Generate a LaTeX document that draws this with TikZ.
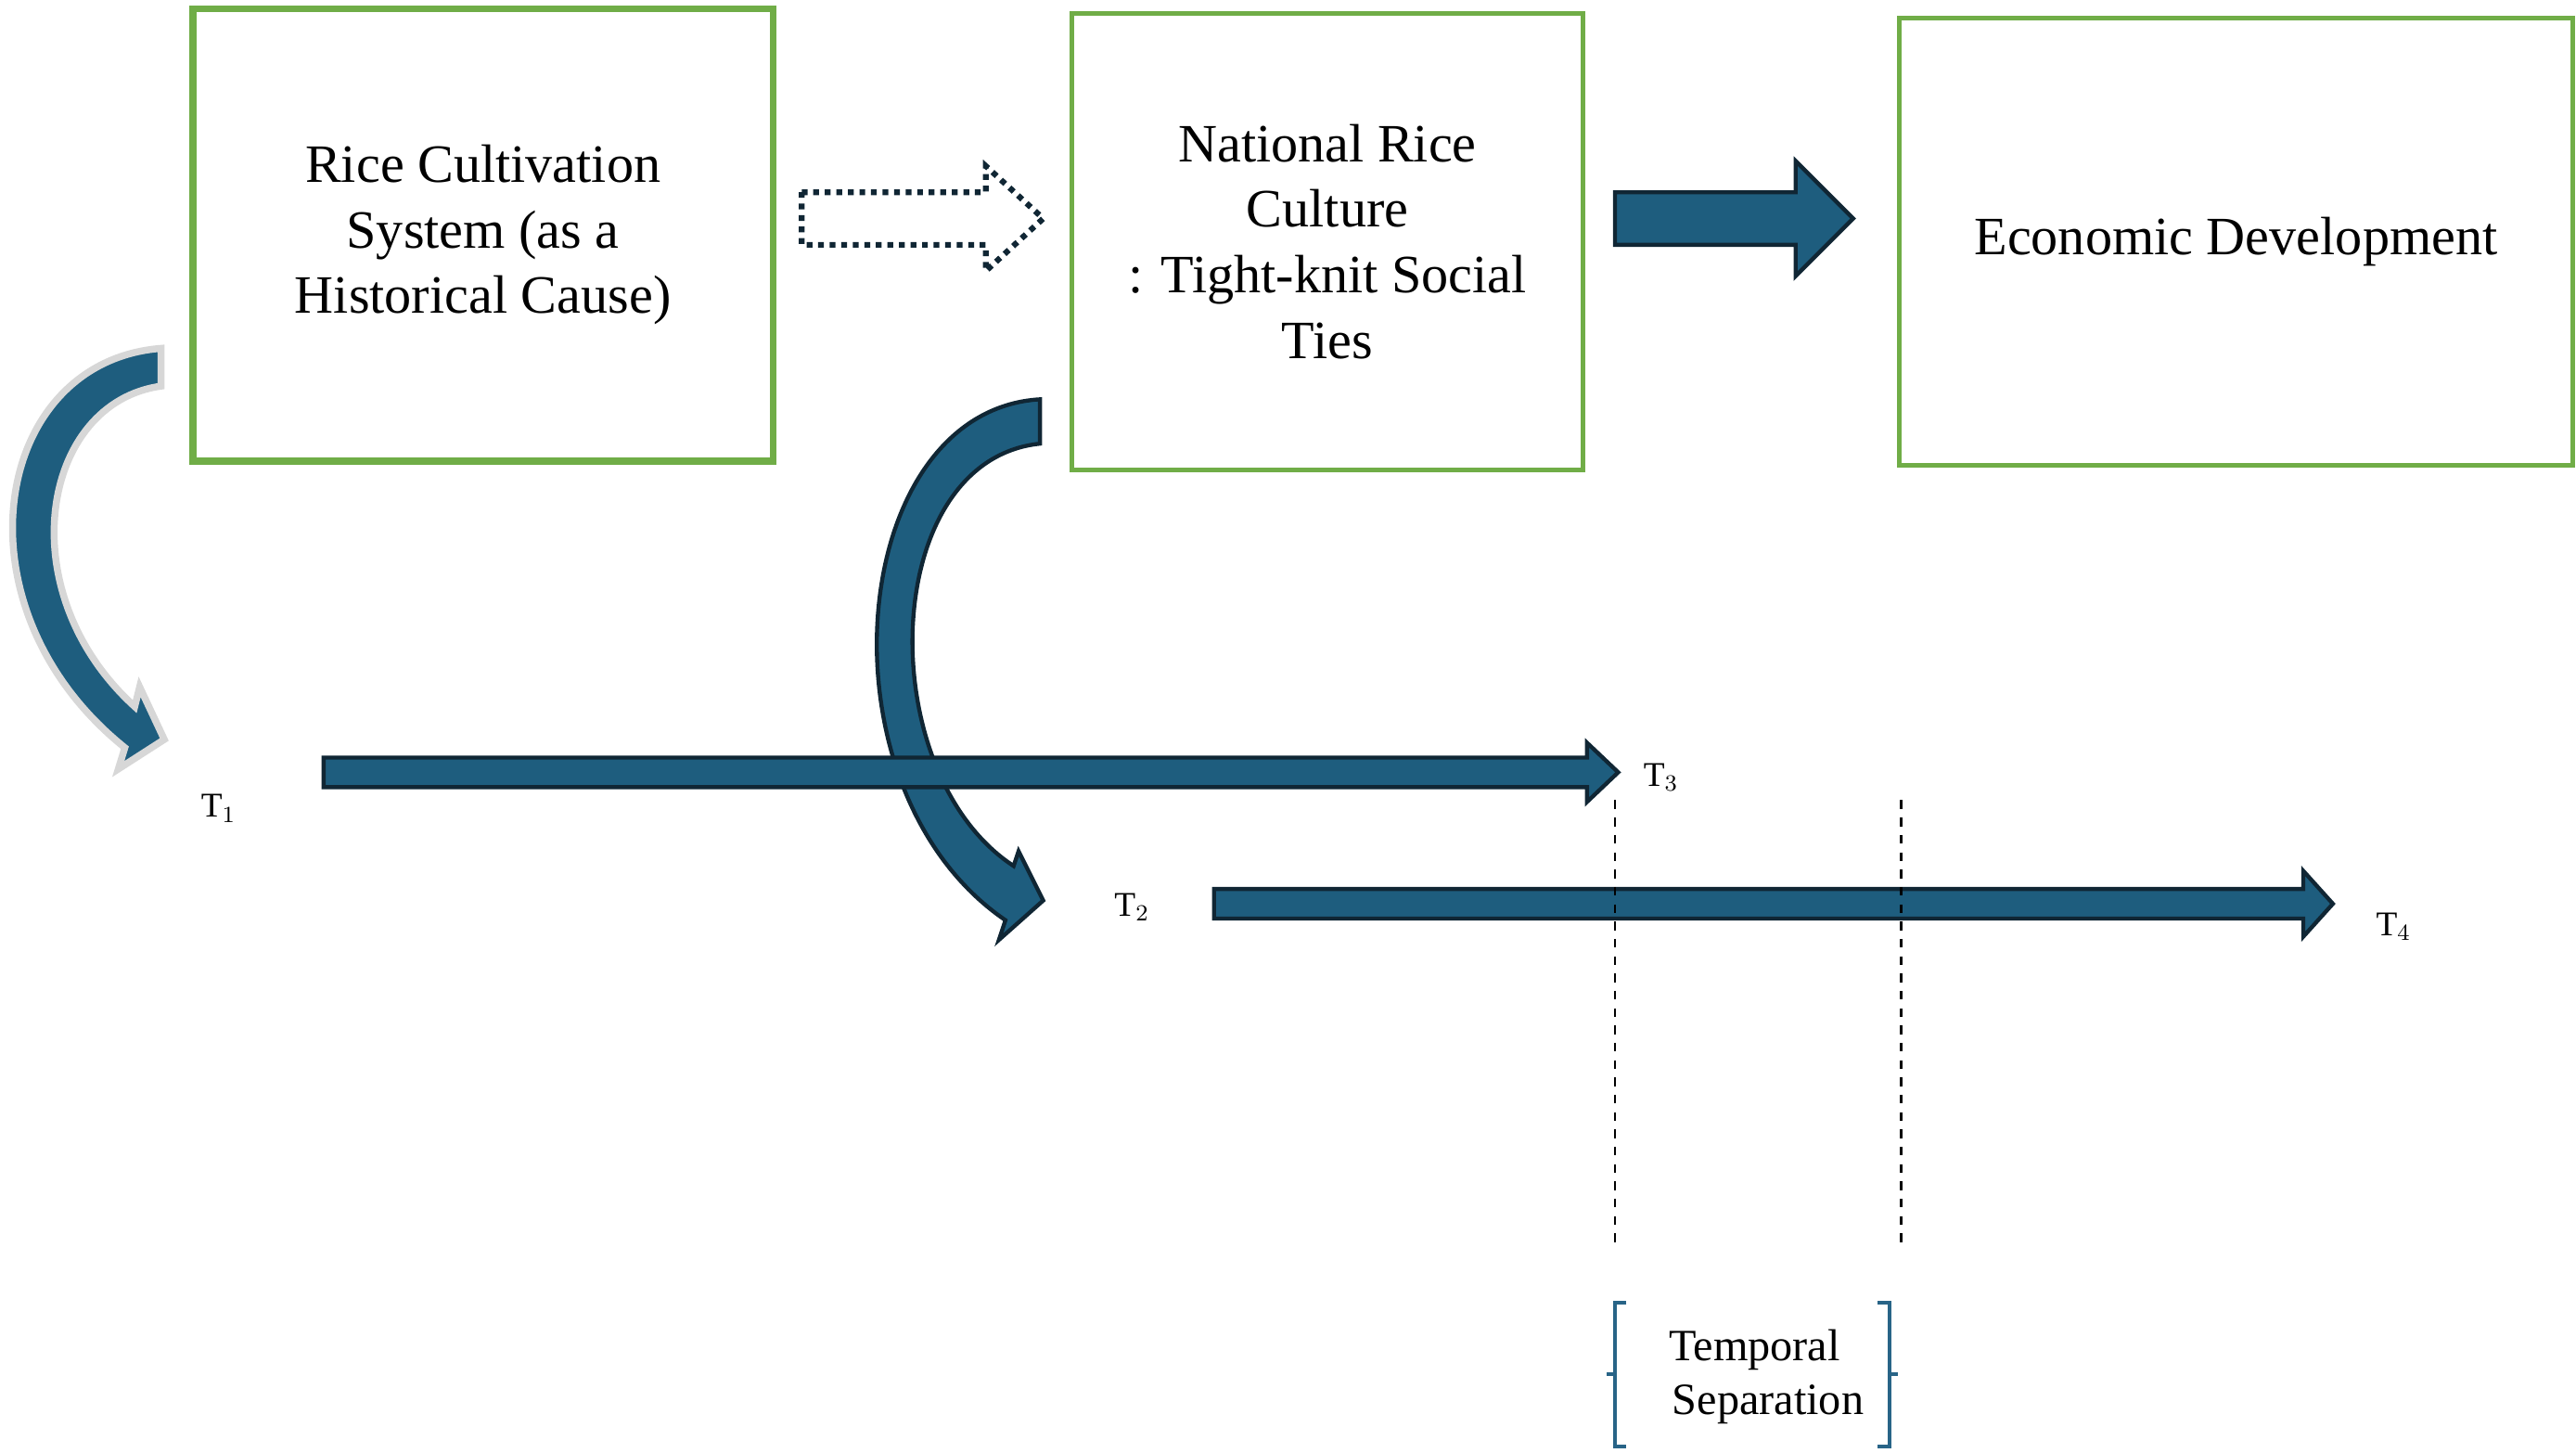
\documentclass[tikz,border=0pt]{standalone}
\usepackage{fontspec}
\setmainfont{Liberation Serif}
\usetikzlibrary{positioning}
\definecolor{boxgreen}{RGB}{112,173,71}
\definecolor{arrowblue}{RGB}{30,93,126}
\definecolor{arrowdark}{RGB}{16,38,52}
\definecolor{bracketblue}{RGB}{40,100,135}
\definecolor{ringgrey}{RGB}{215,215,215}
% horizontal block arrow: {x start}{x head}{x tip}{y}{half shaft}{half head}
\newcommand{\blockarrow}[7][]{%
  \draw[#1] (#2,#5-#6) -- (#3,#5-#6) -- (#3,#5-#7) -- (#4,#5) -- (#3,#5+#7)
    -- (#3,#5+#6) -- (#2,#5+#6) -- cycle;}
\begin{document}
\begin{tikzpicture}[x=0.02cm, y=-0.02cm,
    box/.style={draw=boxgreen, line width=1.6pt, align=center, font=\fontsize{18.7}{22.7}\selectfont},
    tlabel/.style={font=\fontsize{12}{14}\selectfont},
    solidarrow/.style={fill=arrowblue, draw=arrowdark, line width=1.4pt, line join=miter},
    hollowarrow/.style={fill=white, draw=arrowdark, line width=2pt, dotted},
    sep/.style={dashed, line width=0.9pt},
    brace/.style={draw=bracketblue, line width=1.3pt}
  ]
  \useasboundingbox (0,0) rectangle (1568,884);

  % the three boxes
  \node[box, minimum width=7.04cm, minimum height=5.48cm] (rice) at (294,143)
    {Rice Cultivation\\System (as a\\Historical Cause)};
  \node[box, minimum width=6.22cm, minimum height=5.56cm] (culture) at (808,147)
    {National Rice\\Culture\\: Tight-knit Social\\Ties};
  \node[box, minimum width=8.2cm, minimum height=5.44cm] (econ) at (1361,147)
    {Economic Development};
  \draw[draw=boxgreen, line width=1.6pt] (rice.north west) rectangle (rice.south east);

  % arrows between boxes
  \blockarrow[hollowarrow]{488}{600}{635}{133}{16}{32}
  \blockarrow[solidarrow]{983}{1093}{1128}{133}{16}{35}

  % curved arrows down to the time points
  \draw[fill=arrowblue, draw=ringgrey, line width=2.4pt, line join=miter]
    (98,212) .. controls (-5,220) and (-30,370) .. (76,455) -- (72,468) -- (100,450)
    -- (85,418) -- (82,430) .. controls (5,360) and (25,245) .. (98,235) -- cycle;
  \draw[solidarrow]
    (633,243) .. controls (515,250) and (495,480) .. (612,560) -- (608,572) -- (635,548)
    -- (620,518) -- (617,527) .. controls (530,470) and (535,280) .. (633,270) -- cycle;

  % time lines
  \blockarrow[solidarrow]{197}{966}{985}{470}{9}{18}
  \blockarrow[solidarrow]{739}{1402}{1420}{550}{9}{20}
  \node[tlabel] (t1) at (133,492) {T$_1$};
  \node[tlabel] (t3) at (1011,473) {T$_3$};
  \node[tlabel] (t2) at (689,552) {T$_2$};
  \node[tlabel] (t4) at (1457,564) {T$_4$};

  % temporal separation
  \draw[sep] (983,487) -- (983,757);
  \draw[sep] (1157,487) -- (1157,757);
  \draw[brace] (990,793) -- (983,793) -- (983,880) -- (990,880) (983,836) -- (978,836);
  \draw[brace] (1143,793) -- (1150,793) -- (1150,880) -- (1143,880) (1150,836) -- (1155,836);
  \node[tlabel, font=\fontsize{15.5}{18.5}\selectfont, align=center] (gap) at (1068,838)
    {Temporal\\\hspace*{0.6em}Separation};
\end{tikzpicture}
\end{document}
